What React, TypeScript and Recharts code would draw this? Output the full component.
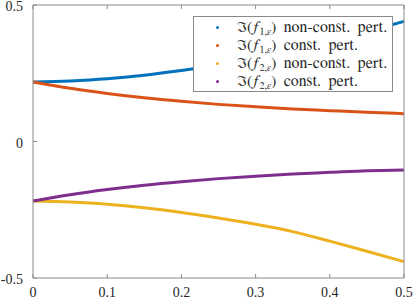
import React from "react";
import { LineChart, Line, XAxis, YAxis } from "recharts";

// x positions of the sampled points
const epsValues = [0, 0.05, 0.1, 0.15, 0.2, 0.25, 0.3, 0.35, 0.4, 0.45, 0.5];

// Im(f_{1,eps}) with non-constant perturbation
const f1NonConst = [0.218, 0.222, 0.23, 0.243, 0.26, 0.28, 0.303, 0.33, 0.365, 0.402, 0.44];
// Im(f_{1,eps}) with constant perturbation
const f1Const = [0.218, 0.195, 0.176, 0.16, 0.147, 0.136, 0.127, 0.119, 0.113, 0.107, 0.102];
// Im(f_{2,eps}) with non-constant perturbation
const f2NonConst = [-0.218, -0.222, -0.23, -0.243, -0.26, -0.28, -0.303, -0.33, -0.365, -0.402, -0.44];
// Im(f_{2,eps}) with constant perturbation
const f2Const = [-0.218, -0.195, -0.176, -0.16, -0.147, -0.136, -0.127, -0.119, -0.113, -0.107, -0.104];

const xTicks = [0, 0.1, 0.2, 0.3, 0.4, 0.5];
const yTicks = [-0.5, 0, 0.5];

const legendLabels = [
  { sub: "1", rest: "non-const. pert.", color: "#0072BD" },
  { sub: "1", rest: "const. pert.", color: "#D95319" },
  { sub: "2", rest: "non-const. pert.", color: "#EDB120" },
  { sub: "2", rest: "const. pert.", color: "#7E2F8E" },
];

const data = epsValues.map((x, i) => ({
  x,
  a: f1NonConst[i],
  b: f1Const[i],
  c: f2NonConst[i],
  d: f2Const[i],
}));

const AXIS = "#8a8a8a";
const TEXT = "#262626";
const FONT = '"Liberation Serif", "FreeSerif", serif';
const LEGEND_FONT = '"FreeSerif", "Liberation Serif", serif';

const BottomTick = ({ x, y, payload }: any) => (
  <g>
    <line x1={x} x2={x} y1={y} y2={y - 4} stroke={AXIS} />
    <text x={x} y={y + 18.5} textAnchor="middle" fill={TEXT} fontSize={14} style={{ fontFamily: FONT }}>
      {payload.value}
    </text>
  </g>
);

const TopTick = ({ x, y }: any) => (
  <line x1={x} x2={x} y1={y} y2={y + 4} stroke={AXIS} />
);

const LeftTick = ({ x, y, payload }: any) => (
  <g>
    <line x1={x} x2={x + 4} y1={y} y2={y} stroke={AXIS} />
    <text x={x - 10} y={y + 6} textAnchor="end" fill={TEXT} fontSize={14} style={{ fontFamily: FONT }}>
      {payload.value}
    </text>
  </g>
);

const RightTick = ({ x, y }: any) => (
  <line x1={x} x2={x - 4} y1={y} y2={y} stroke={AXIS} />
);

export default function App() {
  return (
    <div style={{ position: "absolute", left: 0, top: 0, width: 415, height: 300, background: "#fff", fontFamily: FONT }}>
      <LineChart width={415} height={300} data={data} margin={{ top: 0, right: 0, bottom: 0, left: 0 }}>
        <XAxis
          xAxisId="bottom"
          dataKey="x"
          type="number"
          domain={[0, 0.5]}
          ticks={xTicks}
          height={22}
          tickSize={0}
          tickMargin={0}
          tickLine={false}
          axisLine={{ stroke: AXIS }}
          tick={<BottomTick />}
          interval={0}
        />
        <XAxis
          xAxisId="top"
          orientation="top"
          dataKey="x"
          type="number"
          domain={[0, 0.5]}
          ticks={xTicks}
          height={5}
          tickSize={0}
          tickMargin={0}
          tickLine={false}
          axisLine={{ stroke: AXIS }}
          tick={<TopTick />}
          interval={0}
        />
        <YAxis
          yAxisId="left"
          type="number"
          domain={[-0.5, 0.5]}
          ticks={yTicks}
          width={33}
          tickSize={0}
          tickMargin={0}
          tickLine={false}
          axisLine={{ stroke: AXIS }}
          tick={<LeftTick />}
          interval={0}
        />
        <YAxis
          yAxisId="right"
          orientation="right"
          type="number"
          domain={[-0.5, 0.5]}
          ticks={yTicks}
          width={11}
          tickSize={0}
          tickMargin={0}
          tickLine={false}
          axisLine={{ stroke: AXIS }}
          tick={<RightTick />}
          interval={0}
        />
        <Line xAxisId="bottom" yAxisId="left" type="monotone" dataKey="a" stroke="#0072BD" strokeWidth={3} dot={false} isAnimationActive={false} />
        <Line xAxisId="bottom" yAxisId="left" type="monotone" dataKey="b" stroke="#D95319" strokeWidth={3} dot={false} isAnimationActive={false} />
        <Line xAxisId="bottom" yAxisId="left" type="monotone" dataKey="c" stroke="#EDB120" strokeWidth={3} dot={false} isAnimationActive={false} />
        <Line xAxisId="bottom" yAxisId="left" type="monotone" dataKey="d" stroke="#7E2F8E" strokeWidth={3} dot={false} isAnimationActive={false} />
      </LineChart>

      {/* legend box, MATLAB style */}
      <div
        style={{
          position: "absolute",
          left: 193,
          top: 16,
          width: 200,
          height: 76,
          background: "#fff",
          border: `1px solid ${AXIS}`,
          fontFamily: LEGEND_FONT,
          fontSize: 16,
          letterSpacing: 0.15,
          wordSpacing: 3,
          color: TEXT,
          paddingTop: 1,
          boxSizing: "border-box",
          overflow: "hidden",
        }}
      >
        {legendLabels.map((l, i) => (
          <div key={i} style={{ display: "flex", alignItems: "center", height: 18, whiteSpace: "nowrap" }}>
            <div style={{ flexShrink: 0, width: 3, height: 3, borderRadius: 2, background: l.color, marginLeft: 22, marginRight: 18 }} />
            <span style={{ lineHeight: "18px" }}>
              ℑ(<i>f</i>
              <sub style={{ fontSize: 10, lineHeight: 0, verticalAlign: "-3px", letterSpacing: 0 }}>
                {l.sub},<i>ε</i>
              </sub>
              ) {l.rest}
            </span>
          </div>
        ))}
      </div>
    </div>
  );
}
